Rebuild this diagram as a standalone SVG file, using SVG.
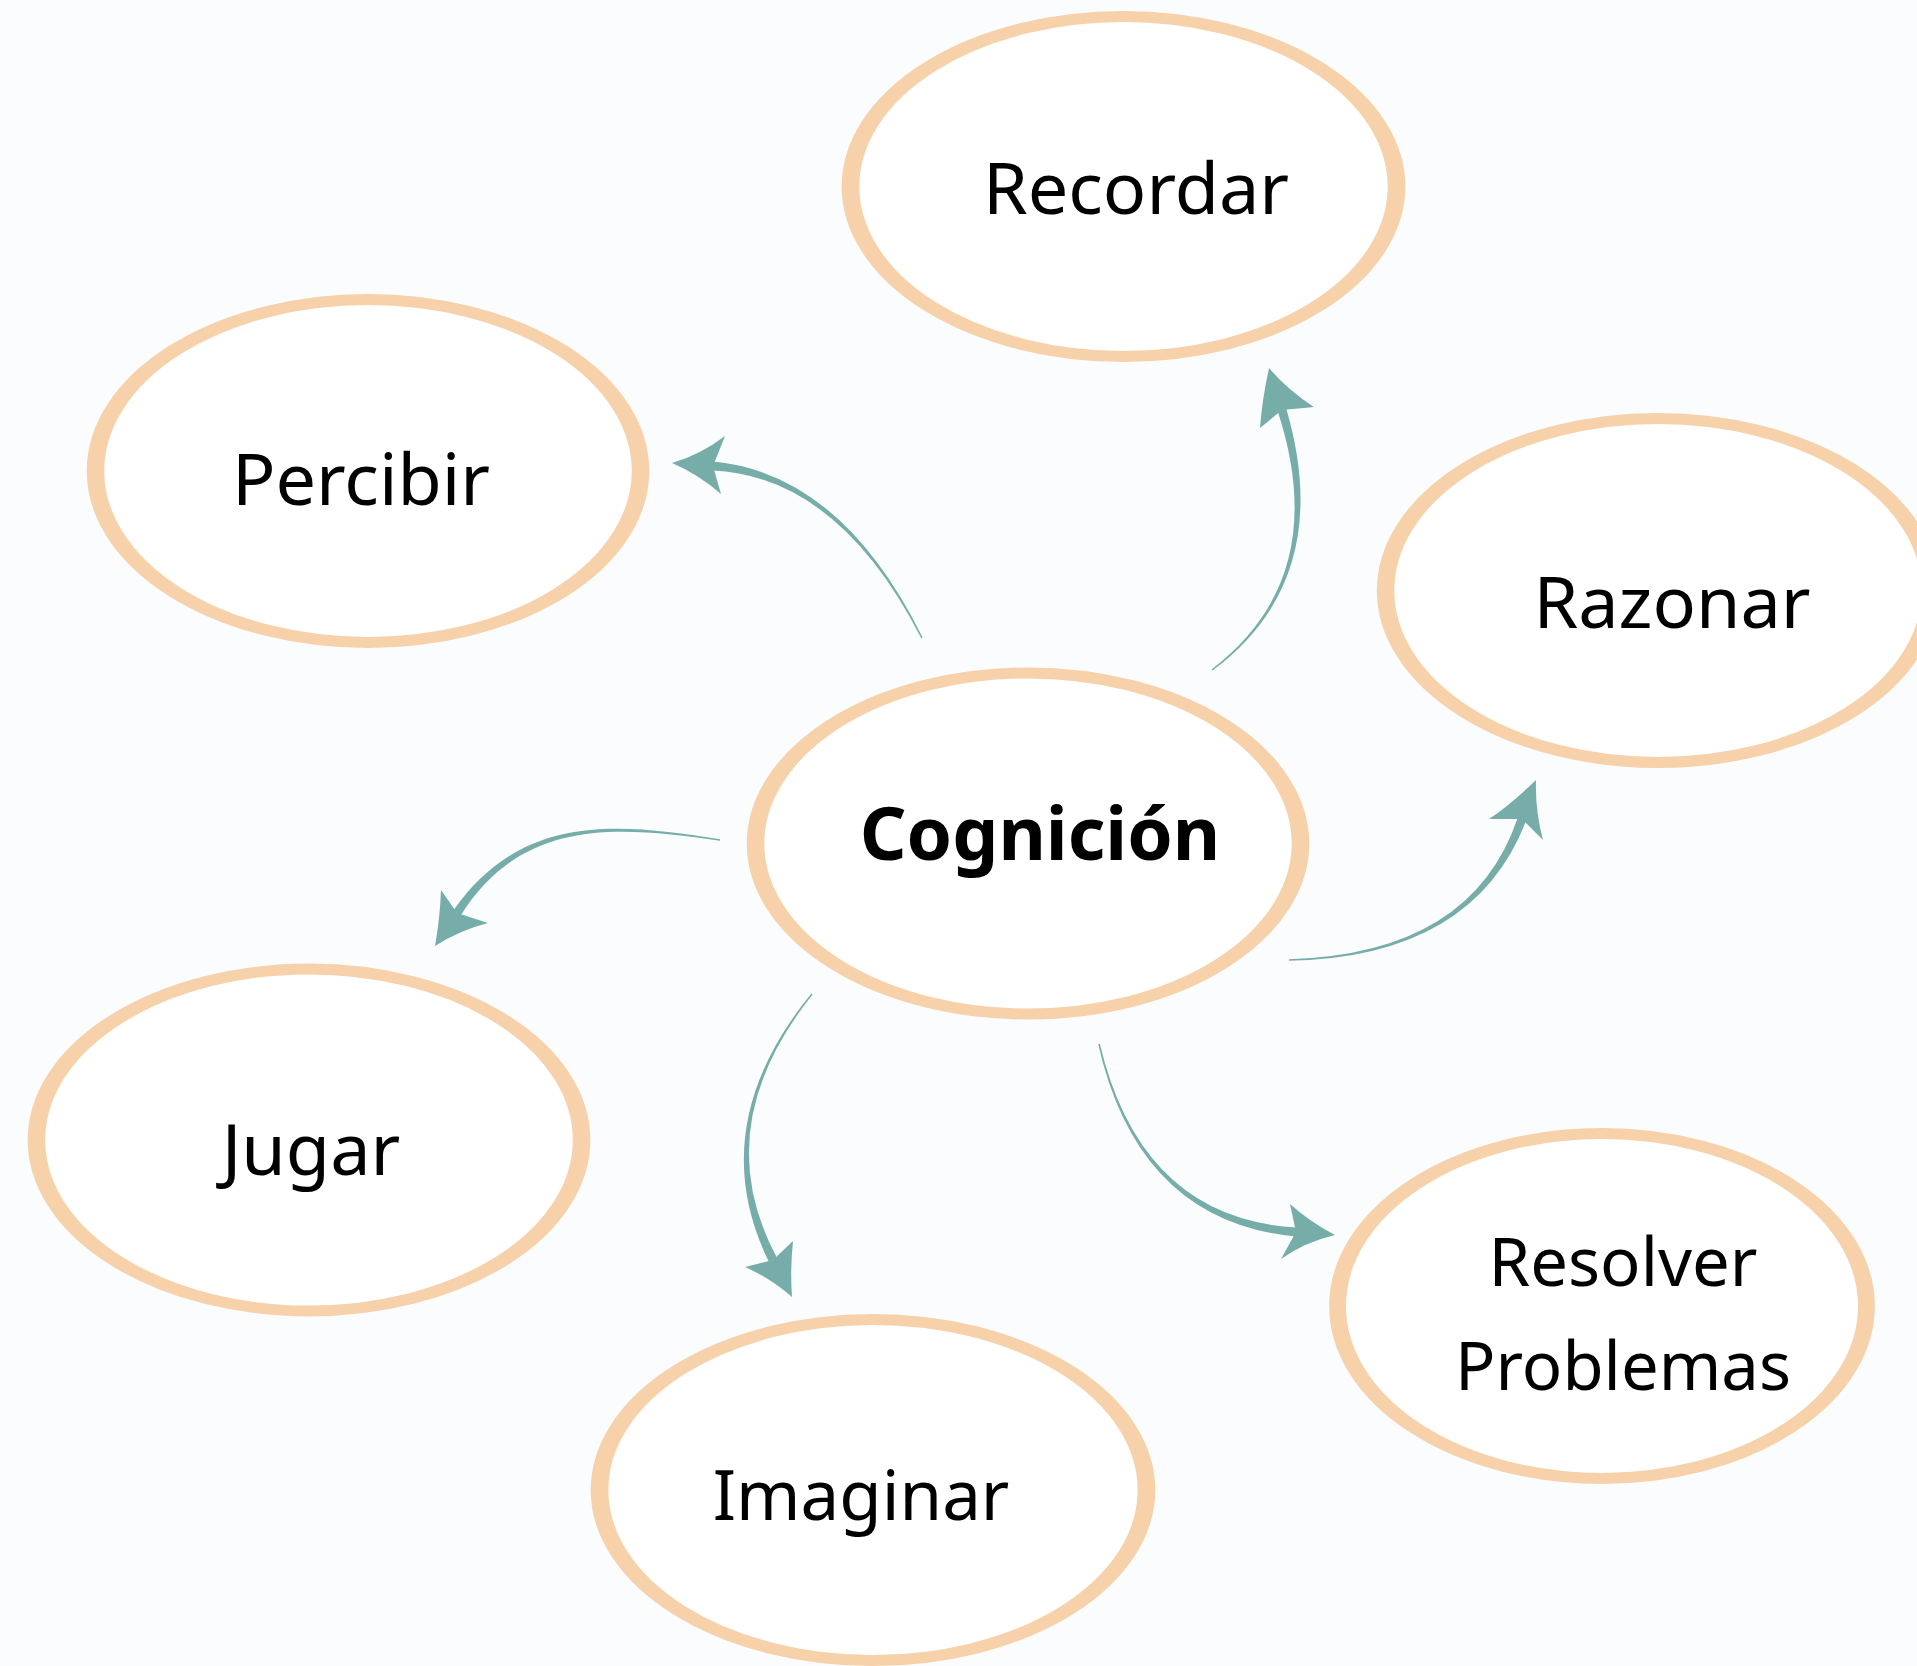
<svg xmlns="http://www.w3.org/2000/svg" width="1917" height="1666" viewBox="0 0 1917 1666">
<style>
.node{fill:#FFFFFF;stroke:#F6D1A9;stroke-width:11}
.lbl{font-family:"Noto Sans","Open Sans",sans-serif;font-size:72px;fill:#000;text-anchor:middle}
.bold{font-weight:bold;font-size:73px}
.sm{font-size:67px}
.md{font-size:69px}
.conn path{fill:#76ADA9;stroke:none}
</style>
<rect width="1917" height="1666" fill="#FAFCFE"/>
<g id="n-recordar"><ellipse class="node" cx="0" cy="0" rx="170" ry="170" transform="translate(1123.5,186.5) scale(1.606,1)"/><text class="lbl" x="1136" y="214">Recordar</text></g>
<g id="n-percibir"><ellipse class="node" cx="0" cy="0" rx="171.5" ry="171.5" transform="translate(368,471) scale(1.589,1)"/><text class="lbl" x="361" y="505">Percibir</text></g>
<g id="n-razonar"><ellipse class="node" cx="0" cy="0" rx="172" ry="172" transform="translate(1658,590.5) scale(1.584,1)"/><text class="lbl" x="1672" y="628">Razonar</text></g>
<g id="n-cognicion"><ellipse class="node" cx="0" cy="0" rx="170.5" ry="170.5" transform="translate(1028,843.5) scale(1.598,1)"/><text class="lbl bold" x="1040" y="860">Cognición</text></g>
<g id="n-jugar"><ellipse class="node" cx="0" cy="0" rx="171" ry="171" transform="translate(309,1140) scale(1.594,1)"/><text class="lbl" x="311" y="1175">Jugar</text></g>
<g id="n-imaginar"><ellipse class="node" cx="0" cy="0" rx="170.5" ry="170.5" transform="translate(873,1490) scale(1.604,1)"/><text class="lbl md" x="861" y="1520">Imaginar</text></g>
<g id="n-resolver"><ellipse class="node" cx="0" cy="0" rx="172.5" ry="172.5" transform="translate(1602,1306) scale(1.533,1)"/><text class="lbl sm" x="1623" y="1286">Resolver</text><text class="lbl sm" x="1623" y="1390">Problemas</text></g>
<g id="connectors" class="conn">
<path d="M922.7,637.65 Q841.3,473.5 713.3,461.5 L712.7,470.5 Q838.7,476.5 921.3,638.35 Z"/>
<path d="M672,463 Q700,455 725,436 L713,466 L721,494 Q698,474 672,463 Z"/>
<path d="M1212.5,670.6 Q1335.9,578.5 1286.3,408.7 L1277.7,411.3 Q1332.1,577.5 1211.5,669.4 Z"/>
<path d="M1269,368 Q1262,400 1260,428 L1282,410 L1314,407 Q1288,390 1269,368 Z"/>
<path d="M1289,960.8 Q1474,957.2 1526.2,820.5 L1517.8,817.5 Q1472,953.8 1289,959.2 Z"/>
<path d="M1536,780 Q1510,805 1489,819 L1522,819 L1543,840 Q1535,810 1536,780 Z"/>
<path d="M1098.2,1044.2 Q1138.6,1221.45 1295.65,1236.5 L1296.35,1227.5 Q1141.4,1218.55 1099.8,1043.8 Z"/>
<path d="M1335,1235 Q1310,1222 1290,1204 L1296,1232 L1281,1259 Q1305,1242 1335,1235 Z"/>
<path d="M811.4,993.5 Q702.6,1126.5 769,1262.1 L777,1257.9 Q706.6,1127.1 812.6,994.5 Z"/>
<path d="M792,1297 Q770,1278 745,1267 L773,1260 L793,1241 Q790,1270 792,1297 Z"/>
<path d="M720.1,839.2 C620.1,823.5 522.1,811.6 453.3,910.5 L460.7,915.5 C522.9,816.4 619.9,826.5 719.9,840.8 Z"/>
<path d="M435,946 Q440,918 441,890 L457,913 L488,923 Q460,930 435,946 Z"/>
</g>
</svg>
